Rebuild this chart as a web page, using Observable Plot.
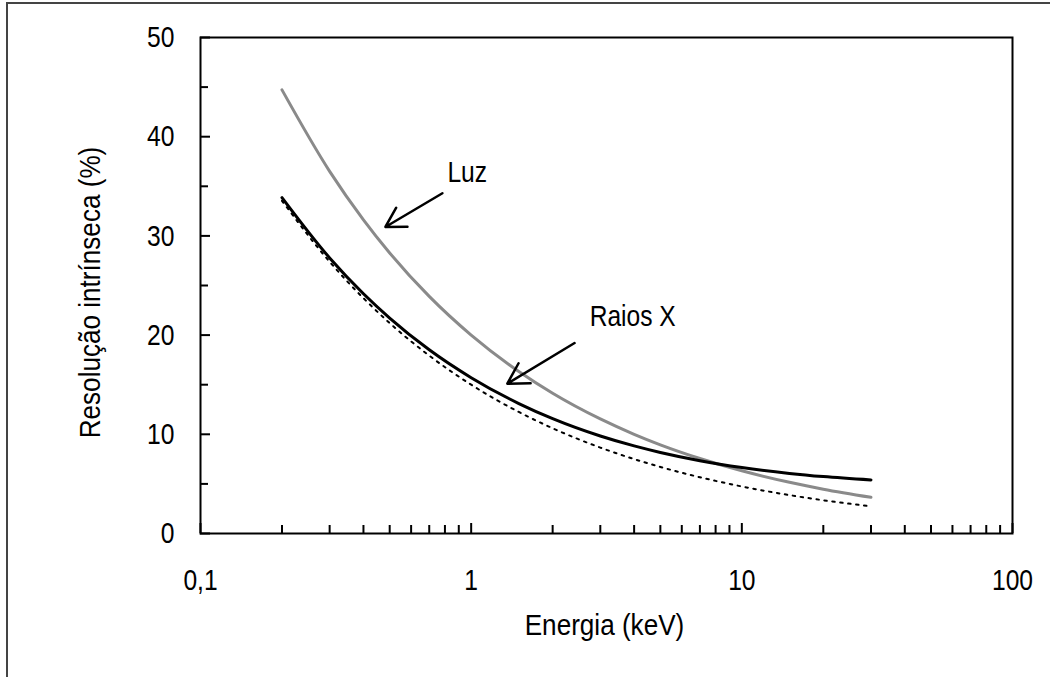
<!DOCTYPE html>
<html><head><meta charset="utf-8">
<script src="https://cdn.jsdelivr.net/npm/d3@7"></script>
<script src="https://cdn.jsdelivr.net/npm/@observablehq/plot@0.6"></script>
<style>
body{margin:0;background:#fff;overflow:hidden}
#wrap{position:relative;width:1050px;height:677px}
#border{position:absolute;left:6px;top:2px;width:3000px;height:3000px;border-left:2px solid #444;border-top:2px solid #444;pointer-events:none}
</style></head><body><div id="wrap"><div id="border"></div></div>
<script>
// Energia (keV)
const energias = [0.2, 0.3, 0.4, 0.5, 0.7, 1, 1.5, 2, 3, 4, 5, 7, 10, 15, 20, 30];
// Resolução intrínseca (%)
const luz    = [44.72, 36.51, 31.62, 28.28, 23.90, 20.00, 16.33, 14.14, 11.55, 10.00, 8.94, 7.56, 6.32, 5.16, 4.47, 3.65];
const raiosX = [33.86, 27.78, 24.17, 21.72, 18.52, 15.71, 13.10, 11.58, 9.83, 8.83, 8.17, 7.34, 6.65, 6.06, 5.74, 5.40];
const ajuste = [33.54, 27.39, 23.72, 21.21, 17.93, 15.00, 12.25, 10.61, 8.66, 7.50, 6.71, 5.67, 4.74, 3.87, 3.35, 2.74];

const xMajor = [0.1, 1, 10, 100];
const xMajorLabels = ["0,1", "1", "10", "100"];
const xMinor = [0.2, 0.3, 0.4, 0.5, 0.6, 0.7, 0.8, 0.9, 2, 3, 4, 5, 6, 7, 8, 9, 20, 30, 40, 50, 60, 70, 80, 90];
const yMajor = [0, 10, 20, 30, 40, 50];
const yMinor = [5, 15, 25, 35, 45];

const anotacoes = [
  {texto: "Luz", e: 0.817, v: 36.4},
  {texto: "Raios X", e: 2.74, v: 21.9}
];
const setas = [
  {e1: 0.783, v1: 34.3, e2: 0.482, v2: 30.9},
  {e1: 2.41, v1: 19.2, e2: 1.36, v2: 15.1}
];

const serie = (vals) => energias.map((e, i) => ({e, v: vals[i]}));
const font = "'Liberation Sans Narrow','Arial Narrow','Liberation Sans',Arial,sans-serif";

const chart = Plot.plot({
  width: 1050, height: 677,
  marginLeft: 200, marginRight: 38, marginTop: 37, marginBottom: 144,
  x: {type: "log", domain: [0.1, 100]},
  y: {domain: [0, 50]},
  style: {fontFamily: font, fontSize: "30px", color: "black", background: "transparent", overflow: "visible"},
  marks: [
    Plot.line(serie(ajuste), {x: "e", y: "v", stroke: "black", strokeWidth: 2, strokeDasharray: "2.5,5.5", curve: "monotone-x"}),
    Plot.line(serie(luz), {x: "e", y: "v", stroke: "#8a8a8a", strokeWidth: 3, curve: "monotone-x"}),
    Plot.line(serie(raiosX), {x: "e", y: "v", stroke: "black", strokeWidth: 3, curve: "monotone-x"}),
    Plot.arrow(setas, {x1: "e1", y1: "v1", x2: "e2", y2: "v2", stroke: "black", strokeWidth: 2.5, headLength: 14}),
    Plot.text(anotacoes, {x: "e", y: "v", text: "texto", textAnchor: "start", lineAnchor: "middle", fill: "black"}),
    Plot.axisX({ticks: xMajor, tickSize: 0, tickPadding: 35, tickFormat: d => xMajorLabels[xMajor.indexOf(d)], label: null}),
    Plot.axisX({ticks: xMajor, tickSize: -10, fill: "none", strokeWidth: 2, label: null}),
    Plot.axisX({ticks: xMinor, tickSize: -8, fill: "none", strokeWidth: 2, label: null}),
    Plot.axisY({ticks: yMajor, tickSize: 0, tickPadding: 26, label: null}),
    Plot.axisY({ticks: yMajor, tickSize: -10, fill: "none", strokeWidth: 2, label: null}),
    Plot.axisY({ticks: yMinor, tickSize: -8, fill: "none", strokeWidth: 2, label: null}),
    Plot.frame({stroke: "black", strokeWidth: 2}),
    Plot.text(["Energia (keV)"], {text: d => d, frameAnchor: "bottom", dx: -2, dy: 92, textAnchor: "middle", lineAnchor: "middle", fill: "black", className: "ttl"}),
    Plot.text(["Resolução intrínseca (%)"], {text: d => d, frameAnchor: "left", rotate: -90, dx: -110, dy: 7, textAnchor: "middle", lineAnchor: "middle", fill: "black", className: "ttl"})
  ]
});
chart.style.position = "absolute";
chart.style.left = "0";
chart.style.top = "0";
document.getElementById("wrap").prepend(chart);

// emulate a narrow (Arial Narrow-like) face by condensing glyphs horizontally
chart.querySelectorAll("text").forEach(t => {
  const isTitle = t.closest(".ttl") !== null;
  const k = isTitle ? 0.87 : 0.82;
  const len = t.getComputedTextLength();
  if (len > 0) {
    t.setAttribute("textLength", (len * k).toFixed(1));
    t.setAttribute("lengthAdjust", "spacingAndGlyphs");
  }
});
</script>
</body></html>
